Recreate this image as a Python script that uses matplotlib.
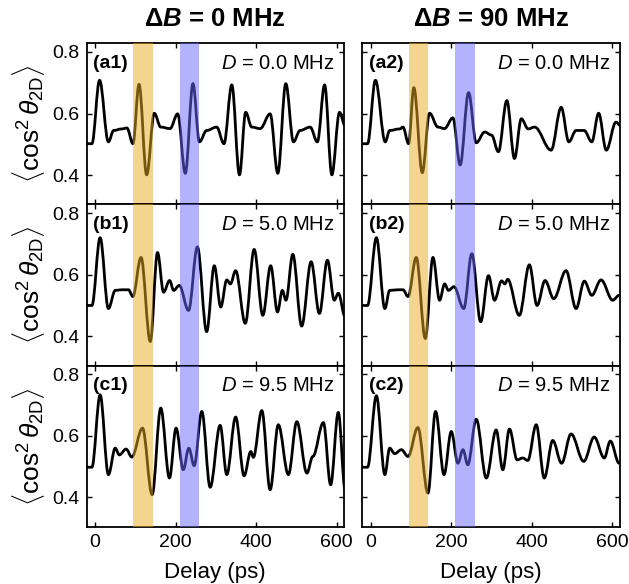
import matplotlib
matplotlib.use('Agg')
import matplotlib.pyplot as plt
from matplotlib.path import Path
from matplotlib.patches import PathPatch

plt.rcParams['font.family'] = ['Liberation Sans', 'DejaVu Sans']
plt.rcParams['mathtext.fontset'] = 'custom'
plt.rcParams['mathtext.rm'] = 'Liberation Sans'
plt.rcParams['mathtext.it'] = 'Liberation Sans:italic'
plt.rcParams['mathtext.bf'] = 'Liberation Sans:bold'
plt.rcParams['mathtext.bfit'] = 'Liberation Sans:italic:bold'

# ---------------- data (delay in ps, <cos^2 theta_2D>) ----------------
a1_t = [-21, -8, 11, 33, 46, 66, 79, 94, 109, 128, 147, 163, 186, 205, 224, 243, 259,
        277, 302, 320, 339.5, 358.5, 374, 389, 410, 434.7, 453.7, 473.6, 492.7, 509,
        534, 552, 570, 588, 607, 621]
a1_v = [0.502, 0.502, 0.708, 0.508, 0.545, 0.550, 0.553, 0.502, 0.695, 0.401, 0.601,
        0.556, 0.551, 0.599, 0.406, 0.697, 0.508, 0.545, 0.556, 0.502, 0.693, 0.401,
        0.604, 0.556, 0.551, 0.599, 0.406, 0.697, 0.508, 0.545, 0.556, 0.508, 0.693,
        0.401, 0.604, 0.560]

a2_t = [-21, -8, 11.6, 36, 47, 72, 80, 94, 107, 128, 146, 167, 183, 204, 222, 243, 262,
        283, 300, 317, 338, 357, 374, 391, 407, 448, 473, 492, 510, 530, 549, 566, 585,
        609, 621]
a2_v = [0.502, 0.502, 0.708, 0.508, 0.545, 0.550, 0.556, 0.502, 0.684, 0.408, 0.601,
        0.556, 0.551, 0.586, 0.433, 0.668, 0.505, 0.540, 0.530, 0.476, 0.642, 0.454,
        0.583, 0.550, 0.556, 0.481, 0.620, 0.508, 0.545, 0.545, 0.508, 0.601, 0.481,
        0.572, 0.560]

b1_t = [-21, -8, 12.4, 33, 50, 66, 83, 93.6, 114, 137, 155, 170, 185, 195, 209, 232,
        254, 277, 296, 312, 327, 336, 349, 373, 395, 416.5, 436, 453, 465, 474, 491,
        513, 536.5, 557, 577, 594, 604, 621]
b1_v = [0.500, 0.500, 0.720, 0.490, 0.549, 0.551, 0.551, 0.529, 0.656, 0.383, 0.672,
        0.543, 0.581, 0.549, 0.565, 0.484, 0.690, 0.415, 0.629, 0.495, 0.583, 0.570,
        0.613, 0.442, 0.682, 0.468, 0.629, 0.479, 0.549, 0.517, 0.666, 0.433, 0.642,
        0.474, 0.647, 0.517, 0.540, 0.463]

b2_t = [-21, -8, 14, 35, 47, 68, 80, 92.6, 113, 135.5, 154.5, 171, 183.5, 193, 206.6,
        231, 251, 273, 292.5, 307.5, 325, 333, 340, 369, 394, 413, 433, 454.5, 485, 510,
        530.5, 549, 572, 601, 617]
b2_v = [0.500, 0.500, 0.720, 0.490, 0.549, 0.551, 0.551, 0.529, 0.656, 0.393, 0.656,
        0.517, 0.570, 0.549, 0.561, 0.490, 0.668, 0.447, 0.597, 0.517, 0.580, 0.570,
        0.585, 0.468, 0.632, 0.500, 0.581, 0.522, 0.613, 0.490, 0.579, 0.533, 0.583,
        0.517, 0.533]

c1_t = [-21, -8, 12.4, 33, 50, 60, 77, 91, 117.6, 141.6, 163, 184.6, 201, 219, 232.7,
        246, 265, 285.7, 310.5, 327, 349, 370, 386.7, 393, 414, 434.7, 455, 480, 501,
        526, 540.7, 567, 585, 604, 621]
c1_v = [0.498, 0.498, 0.733, 0.474, 0.560, 0.538, 0.557, 0.531, 0.625, 0.409, 0.690,
        0.463, 0.625, 0.490, 0.560, 0.503, 0.679, 0.433, 0.634, 0.474, 0.661, 0.470,
        0.549, 0.530, 0.682, 0.425, 0.636, 0.474, 0.646, 0.479, 0.533, 0.643, 0.441,
        0.676, 0.425]

c2_t = [-21, -8, 14, 35, 47, 59.5, 76, 92.6, 117, 142, 161, 182, 200, 216.5, 229, 241,
        262, 287, 311.5, 328, 344.6, 363.6, 377.7, 390, 411, 431, 452, 474, 497.5, 529,
        555, 580, 595, 617]
c2_v = [0.498, 0.498, 0.730, 0.474, 0.560, 0.542, 0.555, 0.533, 0.627, 0.414, 0.679,
        0.474, 0.614, 0.511, 0.555, 0.506, 0.654, 0.463, 0.619, 0.490, 0.622, 0.522,
        0.528, 0.520, 0.636, 0.463, 0.585, 0.511, 0.606, 0.517, 0.596, 0.528, 0.583,
        0.511]

panel_t = [[a1_t, a2_t], [b1_t, b2_t], [c1_t, c2_t]]
panel_v = [[a1_v, a2_v], [b1_v, b2_v], [c1_v, c2_v]]
panel_tags = [['(a1)', '(a2)'], ['(b1)', '(b2)'], ['(c1)', '(c2)']]
detunings = ['0.0', '5.0', '9.5']
column_titles = [r'$\mathbf{\Delta}\mathbfit{B}$ = 0 MHz', r'$\mathbf{\Delta}\mathbfit{B}$ = 90 MHz']
band_orange = (94, 143)
band_blue = (210, 258)
xticks = [0, 200, 400, 600]
yticks = [0.4, 0.6, 0.8]


def smooth_path(t, v, k=0.36):
    verts = [(t[0], v[0])]
    codes = [Path.MOVETO]
    for i in range(len(t) - 1):
        dx = t[i + 1] - t[i]
        verts += [(t[i] + k * dx, v[i]), (t[i + 1] - k * dx, v[i + 1]), (t[i + 1], v[i + 1])]
        codes += [Path.CURVE4] * 3
    return Path(verts, codes)


fig = plt.figure(figsize=(6.29, 5.84), dpi=100)
lefts = [0.1378, 0.576]
width = 0.409
top, bottom = 0.9259, 0.0981
h = (top - bottom) / 3

for r in range(3):
    for c in range(2):
        ax = fig.add_axes([lefts[c], top - (r + 1) * h, width, h])
        ax.set_xlim(-21, 618)
        ax.set_ylim(0.305, 0.828)
        patch = PathPatch(smooth_path(panel_t[r][c], panel_v[r][c]), fill=False,
                          edgecolor='black', lw=2.0, zorder=2, capstyle='round',
                          joinstyle='round')
        ax.add_patch(patch)
        ax.axvspan(*band_orange, color='#EBAB21', alpha=0.5, lw=0, zorder=3)
        ax.axvspan(*band_blue, color='#6767FF', alpha=0.5, lw=0, zorder=3)
        ax.set_xticks(xticks)
        ax.set_yticks(yticks)
        ax.tick_params(direction='in', top=True, right=True, length=3.5, width=1.0,
                       labelsize=14, pad=5)
        if c == 1:
            ax.tick_params(labelleft=False)
        if r < 2:
            ax.tick_params(labelbottom=False)
        else:
            ax.set_xticklabels([str(x) for x in xticks])
        if c == 0:
            ax.set_yticklabels(['0.4', '0.6', '0.8'])
        for s in ax.spines.values():
            s.set_linewidth(1.3)
        ax.text(0.025, 0.875, panel_tags[r][c], transform=ax.transAxes, fontsize=14,
                fontweight='bold', ha='left', va='center')
        ax.text(0.965, 0.875, r'$D$ = ' + detunings[r] + ' MHz', transform=ax.transAxes,
                fontsize=14.5, ha='right', va='center')
        if r == 2:
            fig.text(lefts[c] + width / 2, 0.020, 'Delay (ps)', fontsize=16,
                     ha='center', va='center')
    fig.text(0.046, top - (r + 0.5) * h, r'$\langle\cos^2\theta_{\rm 2D}\rangle$',
             rotation=90, fontsize=19, ha='center', va='center')

for c in range(2):
    fig.text(lefts[c] + width / 2, 0.968, column_titles[c], fontsize=18.5,
             fontweight='bold', ha='center', va='center')

fig.savefig('out.png', dpi=100)
